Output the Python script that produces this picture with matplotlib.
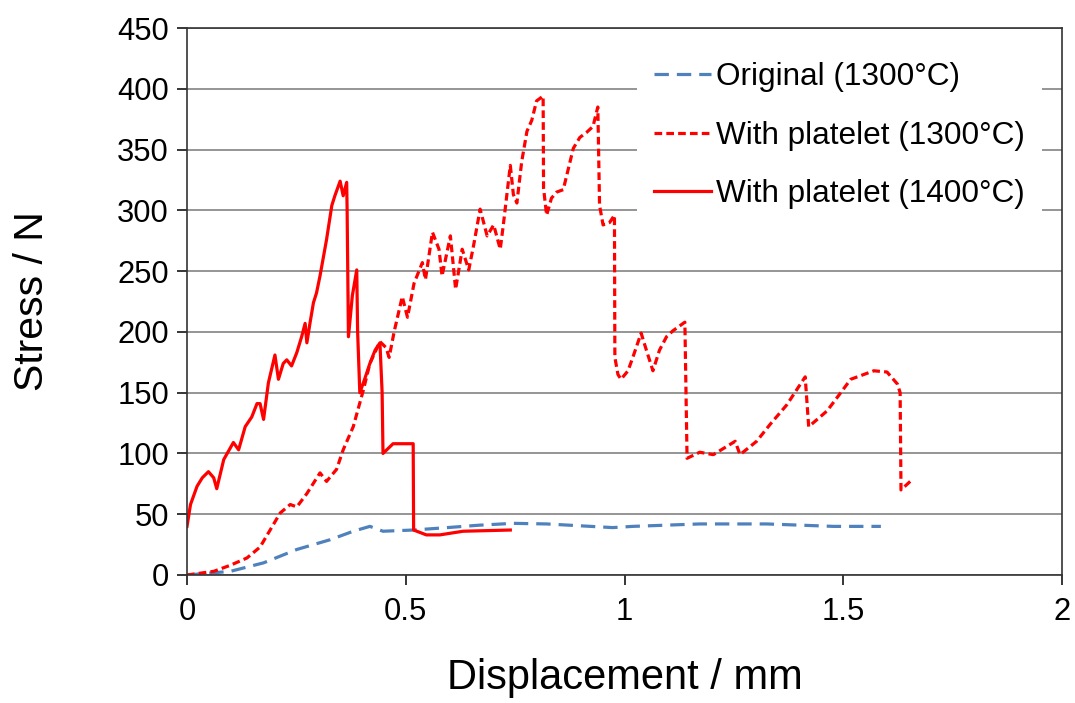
#%% Stress vs displacement for the three sintered samples
import numpy as np
import matplotlib.pyplot as plt

plt.rcParams['font.family'] = ['Liberation Sans', 'DejaVu Sans']

#%% data (displacement in mm, stress in N)
orig_x = [0, 0.099, 0.175, 0.251, 0.327, 0.380, 0.418, 0.448, 0.517, 0.595,
          0.669, 0.746, 0.822, 0.973, 1.019, 1.172, 1.325, 1.478, 1.586]
orig_y = [0, 3, 10, 21, 29, 36, 40, 36, 37, 39,
          41, 42.5, 42, 39, 40, 42, 42, 40, 40]

plt1300_x = [0, 0.061, 0.099, 0.137, 0.167, 0.190, 0.213, 0.236, 0.251, 0.274,
             0.304, 0.319, 0.342, 0.357, 0.380, 0.403, 0.418, 0.441, 0.455, 0.462,
             0.474, 0.492, 0.504, 0.519, 0.538, 0.545, 0.561, 0.576, 0.583, 0.602,
             0.614, 0.629, 0.644, 0.655, 0.670, 0.686, 0.701, 0.716, 0.723, 0.739,
             0.746, 0.754, 0.765, 0.777, 0.788, 0.799, 0.814, 0.815, 0.822, 0.833,
             0.845, 0.860, 0.883, 0.898, 0.913, 0.928, 0.939, 0.943, 0.951, 0.966,
             0.977, 0.978, 0.985, 0.992, 1.008, 1.019, 1.038, 1.050, 1.065, 1.080,
             1.096, 1.111, 1.138, 1.143, 1.172, 1.203, 1.253, 1.264, 1.302, 1.333,
             1.371, 1.413, 1.421, 1.463, 1.486, 1.517, 1.570, 1.600, 1.624, 1.630,
             1.632, 1.653]
plt1300_y = [0, 3, 8, 14, 23, 37, 51, 58, 56, 67,
             84, 77, 87, 103, 122, 152, 174, 192, 187, 179,
             201, 229, 212, 240, 257, 243, 282, 268, 246, 279,
             235, 268, 251, 271, 301, 279, 288, 268, 288, 337,
             313, 306, 340, 365, 374, 390, 394, 318, 296, 310,
             315, 317, 351, 360, 364, 369, 385, 304, 288, 290,
             296, 179, 165, 161, 168, 179, 199, 185, 168, 185,
             196, 201, 208, 96, 101, 99, 110, 99, 110, 124,
             140, 163, 122, 135, 146, 161, 168, 167, 157, 150,
             70, 77]

plt1400_x = [0, 0.008, 0.023, 0.035, 0.049, 0.061, 0.068, 0.084, 0.106, 0.118,
             0.133, 0.148, 0.160, 0.167, 0.175, 0.186, 0.201, 0.209, 0.220, 0.228,
             0.239, 0.251, 0.262, 0.270, 0.274, 0.281, 0.289, 0.296, 0.304, 0.312,
             0.319, 0.331, 0.338, 0.350, 0.357, 0.365, 0.366, 0.369, 0.378, 0.388,
             0.390, 0.395, 0.405, 0.418, 0.430, 0.441, 0.446, 0.448, 0.471, 0.517,
             0.518, 0.547, 0.578, 0.631, 0.739]
plt1400_y = [40, 58, 73, 80, 85, 80, 71, 95, 109, 103,
             122, 130, 141, 141, 128, 158, 181, 161, 174, 177,
             172, 183, 196, 207, 191, 207, 224, 232, 246, 262,
             276, 304, 312, 324, 312, 323, 300, 196, 230, 251,
             200, 150, 160, 174, 185, 191, 150, 100, 108, 108,
             37, 33, 33, 36, 37]

labels = ['Original (1300°C)', 'With platelet (1300°C)', 'With platelet (1400°C)']

#%% figure
fig = plt.figure(figsize=(10.75, 7.03), dpi=100)
ax = fig.add_axes([187/1075, (703-575)/703, (1062-187)/1075, (575-28)/703])

ax.plot(orig_x, orig_y, color='#4f81bd', lw=2.3, dashes=(4.5, 2.5), label=labels[0])
ax.plot(plt1300_x, plt1300_y, color='#ff0000', lw=2.3, dashes=(2.4, 1.3), label=labels[1])
ax.plot(plt1400_x, plt1400_y, color='#ff0000', lw=2.3, label=labels[2])

ax.set_xlim(0, 2)
ax.set_ylim(0, 450)
ax.set_xticks([0, 0.5, 1, 1.5, 2])
ax.set_xticklabels(['0', '0.5', '1', '1.5', '2'])
ax.set_yticks(np.arange(0, 451, 50))
ax.yaxis.grid(True, color='#8c8c8c', lw=1.3)
ax.set_axisbelow(True)
ax.tick_params(direction='out', length=7, width=1.1, labelsize=22.3)
ax.tick_params(axis='x', pad=9)
ax.tick_params(axis='y', pad=6)
for s in ax.spines.values():
    s.set_linewidth(1.2)
    s.set_color('#333333')

ax.set_xlabel('Displacement / mm', fontsize=30, va='center')
ax.set_ylabel('Stress / N', fontsize=29.5, va='center')
ax.xaxis.set_label_coords(0.5, (575 - 678) / 547)
ax.yaxis.set_label_coords((32 - 187) / 875, 0.5)

leg = ax.legend(loc='upper left', bbox_to_anchor=(637/1075, 1 - 45/703),
                bbox_transform=fig.transFigure, fontsize=22.7, frameon=True,
                facecolor='white', edgecolor='none', framealpha=1, fancybox=False,
                handlelength=1.8, handletextpad=0.15, labelspacing=0.9,
                borderpad=0.55, borderaxespad=0)

plt.savefig('out.png', dpi=100)
plt.close()
